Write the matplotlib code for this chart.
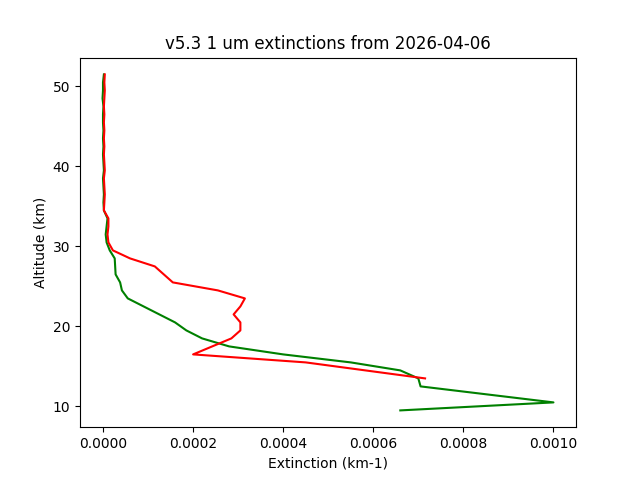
import matplotlib
matplotlib.use("Agg")
from matplotlib import pyplot as plt

alt_green = [9.5, 10.5, 12.5, 13.5, 14.5, 15.5, 16.5, 17.5, 18.5, 19.5, 20.5, 21.5, 22.5, 23.5, 24.5,
             25.5, 26.5, 27.5, 28.5, 29.5, 30.5, 31.5, 32.5, 33.5, 34.5, 35.5, 36.5, 37.5, 38.5, 39.5,
             40.5, 41.5, 42.5, 43.5, 44.5, 45.5, 46.5, 47.5, 48.5, 49.5, 50.5, 51.5]
ext_green = [0.00066, 0.00100, 0.000705, 0.0007, 0.00066, 0.00055, 0.0004, 0.00028, 0.00022, 0.000185, 0.00016,
             0.000125, 0.00009, 0.000055, 0.000042, 0.000038, 0.000028, 0.000027, 0.000026, 0.000015,
             0.000008, 0.000006, 0.000008, 0.000010, 0.000002, 0.000001, 0.000002, 0.000001, 0.0,
             0.000002, 0.000001, 0.0, 0.000001, 0.0, 0.000001, 0.0, 0.0, 0.000001, -0.000001, 0.0, 0.0, 0.000002]

alt_red = [13.5, 15.5, 16.5, 18.5, 19.5, 20.5, 21.5, 22.5, 23.5, 24.5, 25.5, 27.5, 28.5, 29.5, 30.5,
           31.5, 32.5, 33.5, 34.5, 35.5, 36.5, 37.5, 38.5, 39.5, 40.5, 41.5, 42.5, 43.5, 44.5, 45.5,
           46.5, 47.5, 48.5, 49.5, 50.5, 51.5]
ext_red = [0.000715, 0.00045, 0.0002, 0.000285, 0.000305, 0.000305, 0.00029, 0.000305, 0.000315, 0.000255,
           0.000155, 0.000115, 0.00006, 0.000022, 0.000012, 0.000010, 0.000012, 0.000012, 0.000002, 0.000003,
           0.000004, 0.000003, 0.000002, 0.000004, 0.000003, 0.000002, 0.000003, 0.000002, 0.000003,
           0.000002, 0.000003, 0.000002, 0.000003, 0.000004, 0.000003, 0.000004]

fig, ax = plt.subplots(1, 1, figsize=(6.4, 4.8), dpi=100)
ax.plot(ext_green, alt_green, color="green")
ax.plot(ext_red, alt_red, color="red")
ax.set_xlabel("Extinction (km-1)")
ax.set_ylabel("Altitude (km)")
ax.set_title("v5.3 1 um extinctions from 2026-04-06")
plt.savefig("out.png")
